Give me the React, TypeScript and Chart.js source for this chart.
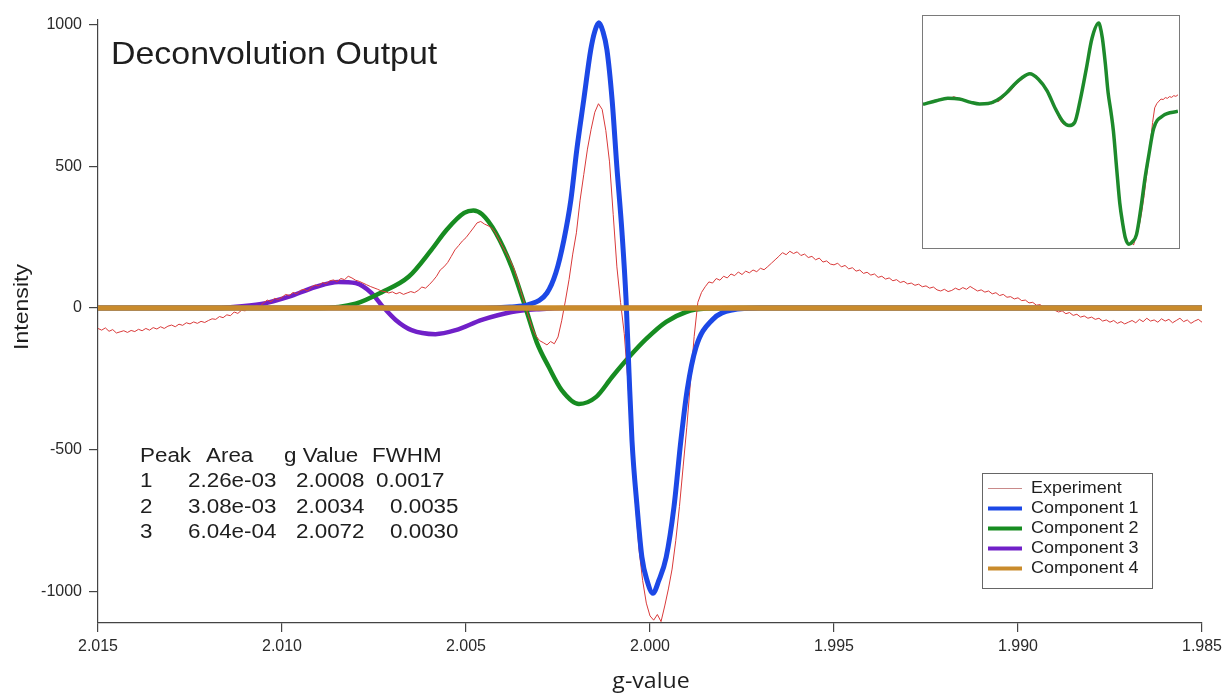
import { useEffect, useRef } from "react";
import { Chart, registerables } from "chart.js";

Chart.register(...registerables);

// ---- axes ----
const X_TICKS = [2.015, 2.01, 2.005, 2.0, 1.995, 1.99, 1.985];
const Y_TICKS = [-1000, -500, 0, 500, 1000];

// ---- experimental spectrum: one intensity per 0.0001 step in g, from 2.015 downwards ----
const EXP_G_START = 2.015;
const EXP_G_STEP = 0.0001;
const EXPERIMENT = [
  -72, -78, -70, -82, -76, -88, -84, -80, -86, -79,
  -83, -75, -80, -72, -78, -69, -74, -66, -72, -64,
  -60, -66, -57, -61, -52, -56, -49, -54, -47, -51,
  -44, -38, -40, -30, -34, -24, -27, -14, -19, -8,
  -10, 2, -3, 10, 6, 18, 28, 22, 34, 30,
  38, 48, 44, 55, 50, 62, 66, 60, 74, 81,
  78, 90, 86, 96, 99, 93, 104, 100, 112, 106,
  98, 94, 88, 82, 76, 71, 66, 60, 58, 53,
  57, 50, 55, 48, 53, 58, 54, 62, 74, 70,
  82, 96, 112, 134, 145, 160, 182, 205, 220, 236,
  248, 265, 282, 300, 305, 296, 290, 282, 265, 240,
  215, 192, 168, 140, 100, 55, 12, -30, -70, -98,
  -115, -122, -130, -118, -126, -102, -45, 25, 100, 190,
  265, 380, 470, 560, 630, 690, 720, 700, 625, 515,
  330, 145, 20, -90, -260, -470, -680, -850, -960, -1040,
  -1085, -1100, -1080, -1105, -1050, -990, -920, -820, -700, -560,
  -420, -260, -100, 20, 55, 75, 92, 88, 104, 98,
  112, 106, 120, 114, 127, 118, 130, 124, 134, 128,
  140, 135, 146, 158, 170, 182, 195, 188, 200, 192,
  198, 185, 190, 178, 182, 170, 176, 162, 166, 155,
  152, 158, 145, 150, 138, 142, 130, 134, 122, 126,
  116, 120, 108, 112, 102, 106, 96, 100, 90, 94,
  85, 88, 80, 84, 75, 78, 70, 74, 64, 60,
  66, 58, 62, 70, 64, 72, 66, 76, 68, 60,
  64, 56, 60, 50, 54, 44, 48, 38, 40, 32,
  36, 26, 28, 18, 20, 10, 12, 2, -4, 0,
  -8, -14, -10, -20, -16, -26, -22, -32, -28, -36,
  -32, -40, -36, -46, -42, -50, -44, -54, -48, -56,
  -50, -44, -52, -40, -48, -36, -46, -42, -50, -38,
  -46, -40, -52, -44, -36, -48, -42, -54, -46, -40,
  -50,
];

// ---- fitted components ----
const COMP1_G = [
  2.015, 2.0045, 2.0038, 2.0033, 2.0028, 2.00256, 2.00234, 2.00215, 2.00199, 2.0018,
  2.00161, 2.0015, 2.00139, 2.00128, 2.00117, 2.00103, 2.0009, 2.00076, 2.00065, 2.00057,
  2.00049, 2.00035, 2.00022, 2.00008, 1.99992, 1.99976, 1.99956, 1.99935, 1.99916, 1.99899,
  1.99875, 1.99831, 1.99777, 1.997, 1.985,
];
const COMP1_I = [
  0, 0, 4, 12, 53, 123, 240, 381, 557, 734,
  910, 975, 1005, 975, 910, 734, 497, 265, 28, -229,
  -466, -702, -878, -960, -1005, -960, -878, -702, -466, -289,
  -138, -42, -7, 0, 0,
];

const COMP2_G = [
  2.015, 2.00901, 2.008, 2.0073, 2.00656, 2.00594, 2.00553, 2.00505, 2.0048, 2.00456,
  2.00419, 2.00376, 2.00338, 2.00308, 2.00275, 2.0024, 2.00193, 2.00147, 2.00103, 2.00057,
  2.00011, 1.99956, 1.99902, 1.99848, 1.99758, 1.985,
];
const COMP2_I = [
  0, 0, 15, 55, 110, 205, 275, 335, 344, 330,
  265, 145, 0, -120, -208, -289, -338, -314, -243, -173,
  -110, -49, -14, -2, 0, 0,
];

const COMP3_G = [
  2.015, 2.0118, 2.01146, 2.01056, 2.00983, 2.00909, 2.00847, 2.008, 2.00757, 2.0073,
  2.00691, 2.00648, 2.00583, 2.00528, 2.00457, 2.00376, 2.00302, 2.0022, 1.985,
];
const COMP3_I = [
  0, 0, 2, 14, 39, 74, 92, 88, 53, 11,
  -42, -78, -92, -78, -42, -14, -4, 0, 0,
];

const COMP4_G = [2.015, 1.985];
const COMP4_I = [0, 0];

// ---- total fit shown in the inset ----
const FIT_G = [
  2.00964, 2.00901, 2.00847, 2.00792, 2.00738, 2.00697, 2.00656, 2.00615, 2.00574, 2.00534,
  2.00498, 2.0046, 2.00419, 2.00378, 2.00338, 2.00302, 2.00275, 2.00248, 2.00221, 2.00193,
  2.00166, 2.00134, 2.00128, 2.00117, 2.00103, 2.0009, 2.00076, 2.00065, 2.00049, 2.00035,
  2.00022, 2.00008, 1.99992, 1.99976, 1.99956, 1.99935, 1.99916, 1.99899, 1.99875, 1.99831,
  1.9976,
];
const FIT_I = [
  48, 78, 98, 92, 65, 52, 55, 82, 135, 210,
  265, 300, 255, 160, 10, -95, -125, -100, 90, 340,
  590, 715, 690, 590, 380, 145, -20, -170, -490, -760,
  -920, -1050, -1098, -1080, -1020, -800, -560, -380, -150, -45,
  -8,
];

const SERIES_NAMES = ["Experiment", "Component 1", "Component 2", "Component 3", "Component 4"];
const SERIES_COLORS = ["#d93a3a", "#1c48e6", "#178c21", "#7020c8", "#c98b2c"];
const SERIES_WIDTHS = [1, 5, 4.5, 4.5, 5.5];

const TABLE_HEADER = ["Peak", "Area", "g Value", "FWHM"];
const TABLE_ROWS = [
  ["1", "2.26e-03", "2.0008", "0.0017"],
  ["2", "3.08e-03", "2.0034", "0.0035"],
  ["3", "6.04e-04", "2.0072", "0.0030"],
];

const CHART_TITLE = "Deconvolution Output";
const X_TITLE = "g-value";
const Y_TITLE = "Intensity";

const SANS = '"Liberation Sans", Arial, sans-serif';

function pairs(gs: number[], vs: number[]) {
  return gs.map((g, i) => ({ x: g, y: vs[i] }));
}

function experimentPoints() {
  return EXPERIMENT.map((v, i) => ({ x: EXP_G_START - i * EXP_G_STEP, y: v }));
}

// text drawn with a slight horizontal stretch
function wideText(
  ctx: CanvasRenderingContext2D,
  text: string,
  x: number,
  y: number,
  font: string,
  sx: number,
  align: "left" | "center" | "right" = "left",
  color = "#1e1e1e"
) {
  ctx.save();
  ctx.font = font;
  ctx.fillStyle = color;
  ctx.textBaseline = "middle";
  ctx.textAlign = "left";
  const w = ctx.measureText(text).width * sx;
  const x0 = align === "center" ? x - w / 2 : align === "right" ? x - w : x;
  ctx.translate(x0, y);
  ctx.scale(sx, 1);
  ctx.fillText(text, 0, 0);
  ctx.restore();
}

const annotations = {
  id: "annotations",
  afterDraw(chart: Chart) {
    const ctx = chart.ctx;
    // title
    wideText(ctx, CHART_TITLE, 111, 55, `32px ${SANS}`, 1.06);

    // axis titles
    wideText(ctx, X_TITLE, 651, 682, `22px "Open Sans", ${SANS}`, 1.05, "center");
    ctx.save();
    ctx.translate(22, 307);
    ctx.rotate(-Math.PI / 2);
    wideText(ctx, Y_TITLE, 0, 0, `21px ${SANS}`, 1.1, "center");
    ctx.restore();

    // parameter table
    const tFont = `20px ${SANS}`;
    const headX = [140, 206, 284, 372];
    headX.forEach((x, c) => wideText(ctx, TABLE_HEADER[c], x, 456, tFont, 1.12));
    const rowX = [
      [140, 188, 296, 376],
      [140, 188, 296, 390],
      [140, 188, 296, 390],
    ];
    TABLE_ROWS.forEach((row, r) => {
      row.forEach((cell, c) => wideText(ctx, cell, rowX[r][c], 481.5 + r * 25.5, tFont, 1.12));
    });

    // legend
    const bx = 982, by = 473, bw = 170, bh = 115;
    ctx.save();
    ctx.fillStyle = "#fff";
    ctx.fillRect(bx, by, bw, bh);
    ctx.strokeStyle = "#666";
    ctx.lineWidth = 1;
    ctx.strokeRect(bx + 0.5, by + 0.5, bw, bh);
    ctx.restore();
    SERIES_NAMES.forEach((name, i) => {
      const y = 488.5 + i * 20;
      ctx.save();
      ctx.strokeStyle = i === 0 ? "#c98a8a" : SERIES_COLORS[i];
      ctx.lineWidth = i === 0 ? 1.2 : 4;
      ctx.beginPath();
      ctx.moveTo(988, y);
      ctx.lineTo(1022, y);
      ctx.stroke();
      ctx.restore();
      wideText(ctx, name, 1031, y, `16px ${SANS}`, 1.12);
    });
  },
};

export default function App() {
  const mainRef = useRef<HTMLCanvasElement>(null);
  const insetRef = useRef<HTMLCanvasElement>(null);

  useEffect(() => {
    document.body.style.margin = "0";
    if (!mainRef.current || !insetRef.current) return;

    const compSets = [
      { g: COMP1_G, v: COMP1_I },
      { g: COMP2_G, v: COMP2_I },
      { g: COMP3_G, v: COMP3_I },
      { g: COMP4_G, v: COMP4_I },
    ];
    const drawOrder = [2, 1, 3, 4, 0];

    const datasets: any[] = [
      {
        label: SERIES_NAMES[0],
        data: experimentPoints(),
        borderColor: SERIES_COLORS[0],
        borderWidth: SERIES_WIDTHS[0],
        pointRadius: 0,
        tension: 0,
        order: drawOrder[0],
      },
      ...compSets.map((s, k) => ({
        label: SERIES_NAMES[k + 1],
        data: pairs(s.g, s.v),
        borderColor: SERIES_COLORS[k + 1],
        borderWidth: SERIES_WIDTHS[k + 1],
        pointRadius: 0,
        cubicInterpolationMode: "monotone",
        borderCapStyle: "round",
        borderJoinStyle: "round",
        order: drawOrder[k + 1],
      })),
    ];

    const tickFont = { family: SANS, size: 16 };

    const main = new Chart(mainRef.current, {
      type: "line",
      data: { datasets },
      plugins: [annotations],
      options: {
        animation: false,
        responsive: false,
        maintainAspectRatio: false,
        layout: { padding: { left: 0, right: 23, top: 20, bottom: 0 } },
        plugins: { legend: { display: false }, tooltip: { enabled: false } },
        scales: {
          x: {
            type: "linear",
            reverse: true,
            min: 1.985,
            max: 2.015,
            afterBuildTicks: (s: any) => {
              s.ticks = X_TICKS.map((v) => ({ value: v }));
            },
            afterFit: (s: any) => {
              s.height = 73;
              s.paddingLeft = 0;
              s.paddingRight = 0;
            },
            ticks: {
              callback: (v: any) => Number(v).toFixed(3),
              font: tickFont,
              color: "#2a2a2a",
              padding: 5,
              maxRotation: 0,
              autoSkip: false,
            },
            grid: { drawOnChartArea: false, drawTicks: true, tickLength: 9, color: "#444", lineWidth: 1.2 },
            border: { color: "#444", width: 1.2 },
          },
          y: {
            type: "linear",
            min: -1110,
            max: 1015,
            afterBuildTicks: (s: any) => {
              s.ticks = Y_TICKS.map((v) => ({ value: v }));
            },
            afterFit: (s: any) => {
              s.width = 98;
            },
            ticks: {
              callback: (v: any) => String(v),
              font: tickFont,
              color: "#2a2a2a",
              padding: 7,
              autoSkip: false,
            },
            grid: { drawOnChartArea: false, drawTicks: true, tickLength: 9, color: "#444", lineWidth: 1.2 },
            border: { color: "#444", width: 1.2 },
          },
        },
      } as any,
    });

    const inset = new Chart(insetRef.current, {
      type: "line",
      data: {
        datasets: [
          {
            label: "Fit",
            data: pairs(FIT_G, FIT_I),
            borderColor: "#1d8a2b",
            borderWidth: 3.5,
            pointRadius: 0,
            cubicInterpolationMode: "monotone",
            order: 0,
          },
          {
            label: SERIES_NAMES[0],
            data: experimentPoints(),
            borderColor: SERIES_COLORS[0],
            borderWidth: 1,
            pointRadius: 0,
            order: 1,
          },
        ],
      },
      options: {
        animation: false,
        responsive: false,
        maintainAspectRatio: false,
        layout: { padding: 0 },
        plugins: { legend: { display: false }, tooltip: { enabled: false } },
        scales: {
          x: { type: "linear", reverse: true, min: 1.9976, max: 2.00964, display: false },
          y: { type: "linear", min: -1121, max: 773, display: false },
        },
      } as any,
    });

    return () => {
      main.destroy();
      inset.destroy();
    };
  }, []);

  return (
    <div style={{ position: "relative", width: 1225, height: 696, background: "#fff" }}>
      <canvas ref={mainRef} width={1225} height={696} style={{ position: "absolute", left: 0, top: 0 }} />
      <div
        style={{
          position: "absolute",
          left: 922,
          top: 15,
          width: 258,
          height: 234,
          border: "1.5px solid #7a7a7a",
          boxSizing: "border-box",
          background: "#fff",
        }}
      >
        <canvas ref={insetRef} width={255} height={231} style={{ display: "block" }} />
      </div>
    </div>
  );
}
